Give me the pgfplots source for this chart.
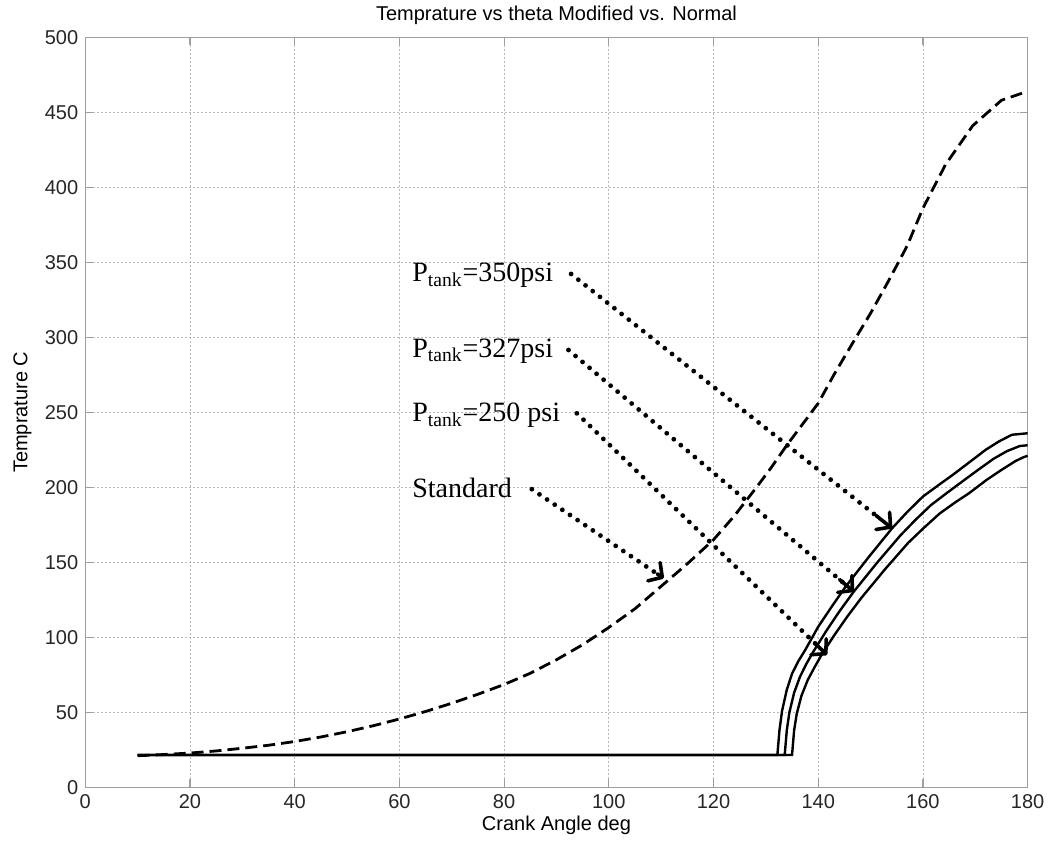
\documentclass[border=0pt]{standalone}
\usepackage{fontspec}
\setmainfont{Liberation Sans}
\newfontfamily\seriffont{Liberation Serif}
\usepackage{pgfplots}
\pgfplotsset{compat=1.18}
\usetikzlibrary{arrows.meta,calc}

\begin{document}
\begin{tikzpicture}
\begin{axis}[
  scale only axis, width=471.2pt, height=375pt,
  at={(0,0)}, anchor=south west,
  xmin=0, xmax=180, ymin=0, ymax=500,
  xtick={0,20,...,180}, ytick={0,50,...,500},
  grid=major,
  major grid style={gray!55, line width=0.4pt, dash pattern=on 1pt off 1pt},
  axis line style={gray!75, line width=0.6pt},
  tick style={gray!75, line width=0.6pt},
  tick align=inside, major tick length=4pt,
  font=\fontsize{10}{12}\selectfont,
  /pgf/number format/assume math mode=true,
  ticklabel style={font=\fontsize{10}{12}\selectfont, text=black!85},
  title={Temprature vs theta Modified vs. Normal},
  title style={at={(axis description cs:0.5,1)}, anchor=base, yshift=2.5pt, inner sep=0pt},
  xlabel={Crank Angle deg}, ylabel={Temprature C},
  xlabel style={at={(axis description cs:0.5,0)}, anchor=base, yshift=-21.5pt, inner sep=0pt},
  ylabel style={at={(axis description cs:-0.0615,0.5)}, anchor=base, inner sep=0pt},
  clip=false,
]
% Standard (dashed)
\addplot[black, line width=1.4pt, dash pattern=on 6pt off 3pt] coordinates {
  (10,21) (15,21.8) (20,22.8) (25,24.2) (30,26) (35,28) (40,30.5) (45,33.5) (50,37)
  (55,41) (60,45.5) (65,50.5) (70,56) (75,62) (80,68.5) (85,76) (90,85) (95,95)
  (100,106.5) (105,119) (110,134) (115,149) (120,165) (124,181) (128,199)
  (131,213) (134,228) (137,242) (140,256) (143,275) (146.5,295.7) (150,316)
  (153.5,338) (157,361) (160,386) (164.3,415) (169.5,441) (175,458) (180,464)
};
% P_tank = 350 psi
\addplot[black, line width=1.2pt] coordinates {
  (10,21.5) (132.2,21.5) (132.6,38) (133.1,51) (134,65) (135,75.7) (136.2,84)
  (137.6,92) (140,107) (142.5,120) (145.2,133.6) (149.7,153.7) (154.1,172.6)
  (157,183.5) (160,193.8) (163,201.5) (165.6,208) (169,217) (172,225)
  (174.5,230.5) (177,235) (180,236)
};
% P_tank = 327 psi
\addplot[black, line width=1.2pt] coordinates {
  (10,21.5) (133.6,21.5) (134,38) (134.5,50) (135.4,63) (136.5,73.5) (137.7,82)
  (139,90) (141.5,104) (144,117) (146.7,130) (151.2,149.5) (155.6,167.5)
  (158.5,178) (161.5,188) (164.5,196) (167,202.5) (170.5,211.5) (173.5,219)
  (176,224) (178.5,227.5) (180,228)
};
% P_tank = 250 psi
\addplot[black, line width=1.2pt] coordinates {
  (10,21.5) (135,21.5) (135.4,38) (135.9,49) (136.8,61) (138,71.5) (139.3,80)
  (140.6,88) (143,101) (145.6,114) (148.3,126.5) (152.8,145.5) (157.2,163)
  (160.2,173) (163.2,182.5) (166.2,190) (168.8,196) (172.2,205) (175.2,212)
  (177.7,217.5) (179.2,220) (180,221)
};
% annotation arrows
\tikzset{anndots/.style={black, line width=2.4pt, line cap=round,
  dash pattern=on 0pt off 4.6pt},
  annhead/.style={black, line width=1.8pt, solid, line cap=round, line join=round,
  -{Straight Barb[length=5pt, width=11pt, line width=1.8pt, round]}}}
\foreach \ax/\ay/\bx/\by in {92.8/342.2/154.1/172.7, 92.3/291.5/146.8/130.4,
    93.9/249.3/141.7/88.2, 85.3/198.7/110.5/139.3}{
  \edef\temp{\noexpand\draw[anndots] (axis cs:\ax,\ay) -- ($(axis cs:\ax,\ay)!0.96!(axis cs:\bx,\by)$);
    \noexpand\draw[annhead] ($(axis cs:\ax,\ay)!0.95!(axis cs:\bx,\by)$) -- (axis cs:\bx,\by);}
  \temp
}
% annotation texts
\tikzset{anntext/.style={anchor=base west, inner sep=0pt, font=\seriffont\fontsize{14}{16}\selectfont}}
\node[anntext] at (axis cs:62.4,337) {P\textsubscript{tank}=350psi};
\node[anntext] at (axis cs:62.4,286.6) {P\textsubscript{tank}=327psi};
\node[anntext] at (axis cs:62.4,243.7) {P\textsubscript{tank}=250 psi};
\node[anntext] at (axis cs:62.4,193.3) {Standard};
\end{axis}
\pgfresetboundingbox
\path[use as bounding box] (-42.65pt,-27.85pt) rectangle (483.4pt,393.65pt);
\end{tikzpicture}
\end{document}
